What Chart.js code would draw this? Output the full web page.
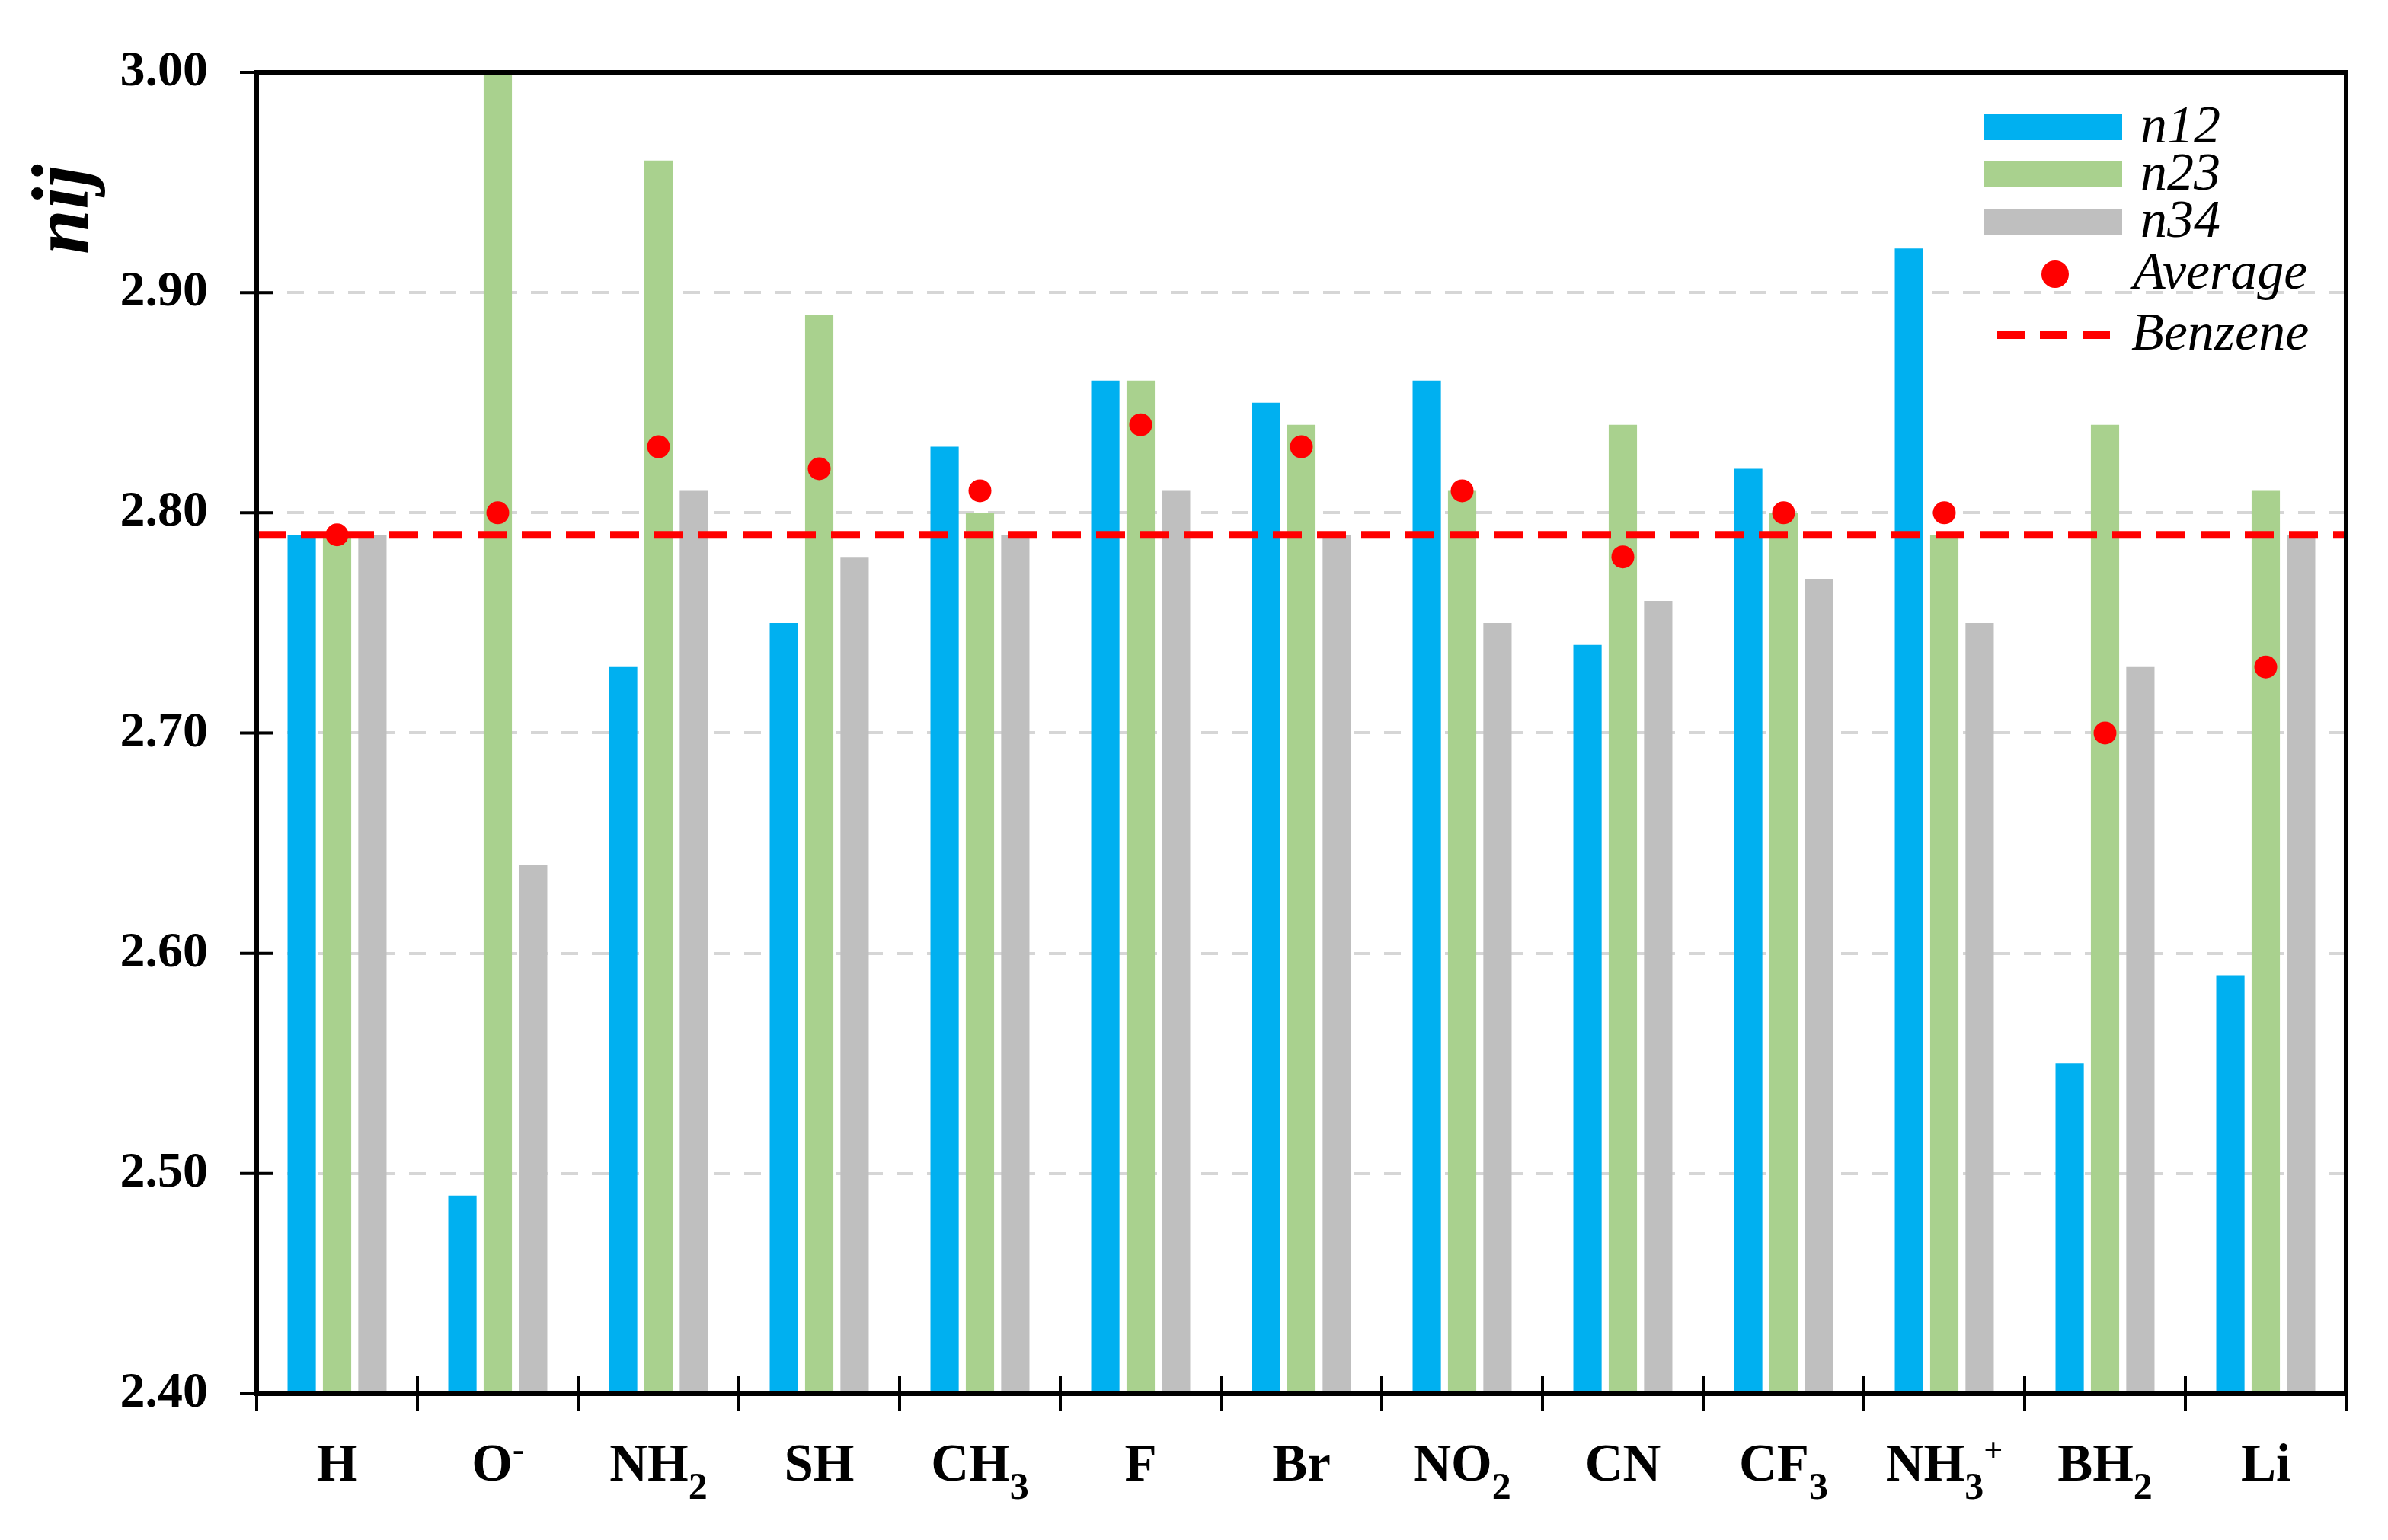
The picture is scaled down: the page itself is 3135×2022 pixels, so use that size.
<!DOCTYPE html>
<html>
<head>
<meta charset="utf-8">
<title>nij</title>
<script src="https://cdn.jsdelivr.net/npm/chart.js@4.4.1/dist/chart.umd.min.js"></script>
<style>
  html, body { margin: 0; padding: 0; background: #fff; }
  .chart-box { width: 3135px; height: 2022px; }
</style>
</head>
<body>
<div class="chart-box"><canvas id="nijChart"></canvas></div>
<script>
// data
const categories = ['H', 'O⁻', 'NH₂', 'SH', 'CH₃', 'F', 'Br', 'NO₂', 'CN', 'CF₃', 'NH₃⁺', 'BH₂', 'Li'];
const n12 = [2.79, 2.49, 2.73, 2.75, 2.83, 2.86, 2.85, 2.86, 2.74, 2.82, 2.92, 2.55, 2.59];
const n23 = [2.79, 3.00, 2.96, 2.89, 2.80, 2.86, 2.84, 2.81, 2.84, 2.80, 2.79, 2.84, 2.81];
const n34 = [2.79, 2.64, 2.81, 2.78, 2.79, 2.81, 2.79, 2.75, 2.76, 2.77, 2.75, 2.73, 2.79];
const average = [2.79, 2.80, 2.83, 2.82, 2.81, 2.84, 2.83, 2.81, 2.78, 2.80, 2.80, 2.70, 2.73];
const benzene = 2.79;
const yMin = 2.40;
const yMax = 3.00;
const yStep = 0.10;
const yTitle = 'nij';

const SERIF = '"Liberation Serif", "DejaVu Serif", serif';
const SUB = '₀₁₂₃₄₅₆₇₈₉';
const SUP = { '⁺': '+', '⁻': '-' };
const RED = '#ff0000';

// split "NH₃⁺" into normal / sub / sup runs
function splitLabel(s) {
    const parts = [];
    for (const ch of s) {
        let type = 'n', t = ch;
        if (SUB.includes(ch)) { type = 'sub'; t = String(SUB.indexOf(ch)); }
        else if (SUP[ch]) { type = 'sup'; t = SUP[ch]; }
        const last = parts[parts.length - 1];
        if (last && last.type === type) last.text += t;
        else parts.push({ type, text: t });
    }
    return parts;
}

function line(ctx, x1, y1, x2, y2) {
    ctx.beginPath();
    ctx.moveTo(x1, y1);
    ctx.lineTo(x2, y2);
    ctx.stroke();
}

// benzene reference line across the whole plot, on the y scale
const benzenePlugin = {
    id: 'benzene',
    afterDatasetsDraw(chart) {
        const { ctx, chartArea: a, scales: { y } } = chart;
        const py = y.getPixelForValue(benzene);
        ctx.save();
        ctx.strokeStyle = RED;
        ctx.lineWidth = 10;
        ctx.setLineDash([38, 20]);
        line(ctx, a.left, py, a.right, py);
        ctx.restore();
    }
};

// frame, crossing ticks, x labels, y title and legend
const decoPlugin = {
    id: 'deco',
    afterDraw(chart) {
        const { ctx, chartArea: a, scales: { x, y } } = chart;
        ctx.save();

        ctx.strokeStyle = '#000';
        ctx.lineWidth = 4;
        y.ticks.forEach(t => {
            const py = y.getPixelForValue(t.value);
            line(ctx, a.left - 22, py, a.left + 22, py);
        });
        for (let i = 0; i <= categories.length; i++) {
            const px = x.getPixelForValue(i - 0.5);
            line(ctx, px, a.bottom - 23, px, a.bottom + 23);
        }
        ctx.lineWidth = 6;
        ctx.strokeRect(a.left, a.top, a.right - a.left, a.bottom - a.top);

        // category labels with sub/superscripts
        const mainFont = 'bold 69px ' + SERIF;
        const subFont = 'bold 50px ' + SERIF;
        const supFont = 'bold 44px ' + SERIF;
        const fontOf = p => p.type === 'n' ? mainFont : p.type === 'sub' ? subFont : supFont;
        ctx.fillStyle = '#000';
        ctx.textBaseline = 'alphabetic';
        ctx.textAlign = 'left';
        categories.forEach((lab, i) => {
            const parts = splitLabel(lab);
            let w = 0;
            parts.forEach(p => {
                ctx.font = fontOf(p);
                p.w = ctx.measureText(p.text).width;
                w += p.w;
            });
            let cx = x.getPixelForValue(i) - w / 2;
            const base = a.bottom + 114;
            parts.forEach(p => {
                ctx.font = fontOf(p);
                const dy = p.type === 'sub' ? 24 : p.type === 'sup' ? -26 : 0;
                ctx.fillText(p.text, cx, base + dy);
                cx += p.w;
            });
        });

        // y title
        ctx.save();
        ctx.translate(88, 275);
        ctx.rotate(-Math.PI / 2);
        ctx.font = 'italic bold 106px ' + SERIF;
        ctx.textAlign = 'center';
        ctx.textBaseline = 'middle';
        ctx.fillText(yTitle, 0, 0);
        ctx.restore();

        // legend
        const ds = chart.data.datasets;
        const L = a.right - 476;
        ctx.font = 'italic 70px ' + SERIF;
        ctx.textBaseline = 'middle';
        ctx.textAlign = 'left';
        [72, 134, 196].forEach((dy, i) => {
            ctx.fillStyle = ds[i].backgroundColor;
            ctx.fillRect(L, a.top + dy - 17, 182, 34);
            ctx.fillStyle = '#000';
            ctx.fillText(ds[i].label, L + 206, a.top + dy + 2);
        });
        ctx.fillStyle = ds[3].pointBackgroundColor;
        ctx.beginPath();
        ctx.arc(L + 94, a.top + 265, 18, 0, Math.PI * 2);
        ctx.fill();
        ctx.fillStyle = '#000';
        ctx.fillText(ds[3].label, L + 196, a.top + 266);
        ctx.strokeStyle = RED;
        ctx.lineWidth = 10;
        ctx.setLineDash([36, 20]);
        line(ctx, L + 18, a.top + 345, L + 166, a.top + 345);
        ctx.setLineDash([]);
        ctx.fillText('Benzene', L + 194, a.top + 346);

        ctx.restore();
    }
};

const nijData = {
    labels: categories,
    datasets: [{
        label: 'n12',
        data: n12,
        backgroundColor: '#00b0f0',
        borderWidth: 0,
        categoryPercentage: 0.66,
        barPercentage: 0.8,
    }, {
        label: 'n23',
        data: n23,
        backgroundColor: '#a9d18e',
        borderWidth: 0,
        categoryPercentage: 0.66,
        barPercentage: 0.8,
    }, {
        label: 'n34',
        data: n34,
        backgroundColor: '#bfbfbf',
        borderWidth: 0,
        categoryPercentage: 0.66,
        barPercentage: 0.8,
    }, {
        type: 'line',
        label: 'Average',
        data: average,
        showLine: false,
        pointRadius: 15,
        pointHoverRadius: 15,
        pointBackgroundColor: RED,
        pointBorderWidth: 0,
        borderColor: 'transparent',
        order: -1,
    }]
};

const nijConfig = {
    type: 'bar',
    data: nijData,
    options: {
        responsive: true,
        maintainAspectRatio: false,
        animation: false,
        devicePixelRatio: 1,
        layout: { padding: { top: 95, right: 55, bottom: 0, left: 0 } },
        plugins: {
            legend: { display: false },
            tooltip: { enabled: false }
        },
        scales: {
            x: {
                grid: { display: false },
                border: { display: false },
                ticks: { display: false },
                afterFit: s => { s.height = 192; }
            },
            y: {
                min: yMin,
                max: yMax,
                grid: {
                    drawTicks: true,
                    tickLength: 44,
                    tickColor: 'transparent',
                    lineWidth: 4,
                    color: c => (c.tick && (Math.abs(c.tick.value - yMin) < 1e-6 || Math.abs(c.tick.value - yMax) < 1e-6)) ? 'transparent' : '#d6d6d6'
                },
                border: { display: false, dash: [22, 18] },
                ticks: {
                    stepSize: yStep,
                    padding: 20,
                    color: '#000',
                    font: { family: SERIF, size: 66, weight: 'bold' },
                    callback: v => Number(v).toFixed(2)
                },
                afterFit: s => { s.width = 337; }
            }
        }
    },
    plugins: [benzenePlugin, decoPlugin]
};

const nijChart = new Chart(
    document.getElementById('nijChart'),
    nijConfig
);
</script>
</body>
</html>
